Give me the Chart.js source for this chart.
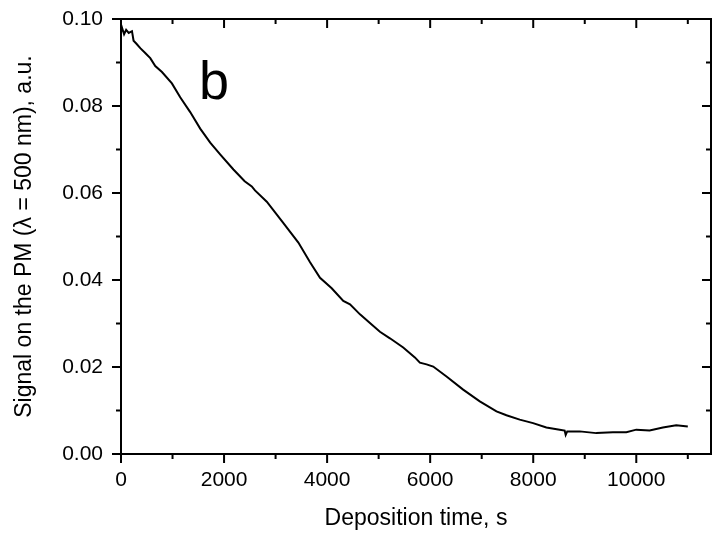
<!DOCTYPE html>
<html>
<head>
<meta charset="utf-8">
<script src="https://cdn.jsdelivr.net/npm/chart.js@4/dist/chart.umd.min.js"></script>
<style>
  html, body { margin: 0; padding: 0; background: #fff; }
  #wrap { width: 712px; height: 538px; position: relative; }
</style>
</head>
<body>
<div id="wrap"><canvas id="pmChart"></canvas></div>
<script>
// deposition time, s
const timeValues = [0, 20, 60, 100, 150, 213, 244, 300, 374, 470, 568, 665, 795, 988, 1149, 1343, 1537, 1731, 1924, 2182,
  2400, 2538, 2600, 2829, 3152, 3442, 3669, 3862, 4089, 4314, 4444, 4638, 4831, 5025, 5219, 5477, 5703, 5800, 5930, 6059,
  6317, 6640, 6963, 7287, 7480, 7738, 7997, 8255, 8513, 8610, 8630, 8660, 8901, 9224, 9547, 9806, 10000, 10258, 10516, 10775, 11000];
// PM signal, a.u.
const signalValues = [0.0970, 0.0980, 0.0965, 0.0975, 0.0968, 0.0972, 0.0950, 0.0943, 0.0933, 0.0922, 0.0910, 0.0892, 0.0878, 0.0852, 0.0820, 0.0786, 0.0748, 0.0716, 0.0689, 0.0654,
  0.0627, 0.0615, 0.0606, 0.0580, 0.0531, 0.0486, 0.0441, 0.0405, 0.0381, 0.0352, 0.0344, 0.0321, 0.0301, 0.0281, 0.0266, 0.0245, 0.0222, 0.0210, 0.0206, 0.0201,
  0.0178, 0.0148, 0.0121, 0.0098, 0.0089, 0.0079, 0.0071, 0.0061, 0.0056, 0.0054, 0.0044, 0.0052, 0.0052, 0.0048, 0.0050, 0.0050, 0.0056, 0.0054, 0.0061, 0.0066, 0.0063];

const xMajorTicks = [0, 2000, 4000, 6000, 8000, 10000];
const xMinorTicks = [1000, 3000, 5000, 7000, 9000, 11000];
const yMajorTicks = [0, 0.02, 0.04, 0.06, 0.08, 0.10];
const yMinorTicks = [0.01, 0.03, 0.05, 0.07, 0.09];

const FONT = "'Liberation Sans', Arial, sans-serif";

// frame + Origin-style tick marks (outward on bottom/left, inward on top/right)
const framePlugin = {
  id: 'frame',
  afterDraw(chart) {
    const { ctx, chartArea: a, scales: { x, y } } = chart;
    ctx.save();
    ctx.strokeStyle = '#000';
    ctx.lineWidth = 2;
    ctx.strokeRect(a.left, a.top, a.right - a.left, a.bottom - a.top);
    ctx.beginPath();
    const xt = (v, len) => {
      const p = x.getPixelForValue(v);
      ctx.moveTo(p, a.bottom); ctx.lineTo(p, a.bottom + len);
      ctx.moveTo(p, a.top); ctx.lineTo(p, a.top + len);
    };
    const yt = (v, len) => {
      const p = y.getPixelForValue(v);
      ctx.moveTo(a.left, p); ctx.lineTo(a.left - len, p);
      ctx.moveTo(a.right, p); ctx.lineTo(a.right - len, p);
    };
    xMajorTicks.forEach(v => xt(v, 9));
    xMinorTicks.forEach(v => xt(v, 5));
    yMajorTicks.forEach(v => yt(v, 9));
    yMinorTicks.forEach(v => yt(v, 5));
    ctx.stroke();

    // panel letter
    ctx.fillStyle = '#000';
    ctx.font = '54px ' + FONT;
    ctx.textAlign = 'left';
    ctx.textBaseline = 'alphabetic';
    ctx.fillText('b', a.left + 78, a.top + 80);
    ctx.restore();
  }
};

new Chart(document.getElementById('pmChart'), {
  type: 'line',
  data: {
    datasets: [{
      data: timeValues.map((t, i) => ({ x: t, y: signalValues[i] })),
      borderColor: '#000',
      borderWidth: 2,
      pointRadius: 0,
      tension: 0,
      fill: false
    }]
  },
  options: {
    responsive: true,
    maintainAspectRatio: false,
    animation: false,
    layout: { padding: { top: 19, right: 1, left: 0, bottom: 0 } },
    plugins: { legend: { display: false }, tooltip: { enabled: false } },
    scales: {
      x: {
        type: 'linear',
        min: 0,
        max: 11450,
        grid: { display: false, drawTicks: false },
        border: { display: false },
        afterBuildTicks: s => { s.ticks = xMajorTicks.map(v => ({ value: v })); },
        afterFit: s => { s.height = 84; s.paddingLeft = 0; s.paddingRight = 0; },
        ticks: {
          color: '#000',
          font: { family: FONT, size: 21 },
          padding: 14,
          maxRotation: 0,
          callback: v => String(v)
        },
        title: {
          display: true,
          text: 'Deposition time, s',
          color: '#000',
          font: { family: FONT, size: 23 },
          padding: { top: 0, bottom: 6 }
        }
      },
      y: {
        type: 'linear',
        min: 0,
        max: 0.10,
        grid: { display: false, drawTicks: false },
        border: { display: false },
        afterBuildTicks: s => { s.ticks = yMajorTicks.map(v => ({ value: v })); },
        afterFit: s => { s.width = 121; s.paddingTop = 0; s.paddingBottom = 0; },
        ticks: {
          color: '#000',
          font: { family: FONT, size: 21 },
          padding: 18,
          callback: v => v.toFixed(2)
        },
        title: {
          display: true,
          text: 'Signal on the PM (λ = 500 nm), a.u.',
          color: '#000',
          font: { family: FONT, size: 23 },
          padding: { top: 11, bottom: 0 }
        }
      }
    }
  },
  plugins: [framePlugin]
});
</script>
</body>
</html>
